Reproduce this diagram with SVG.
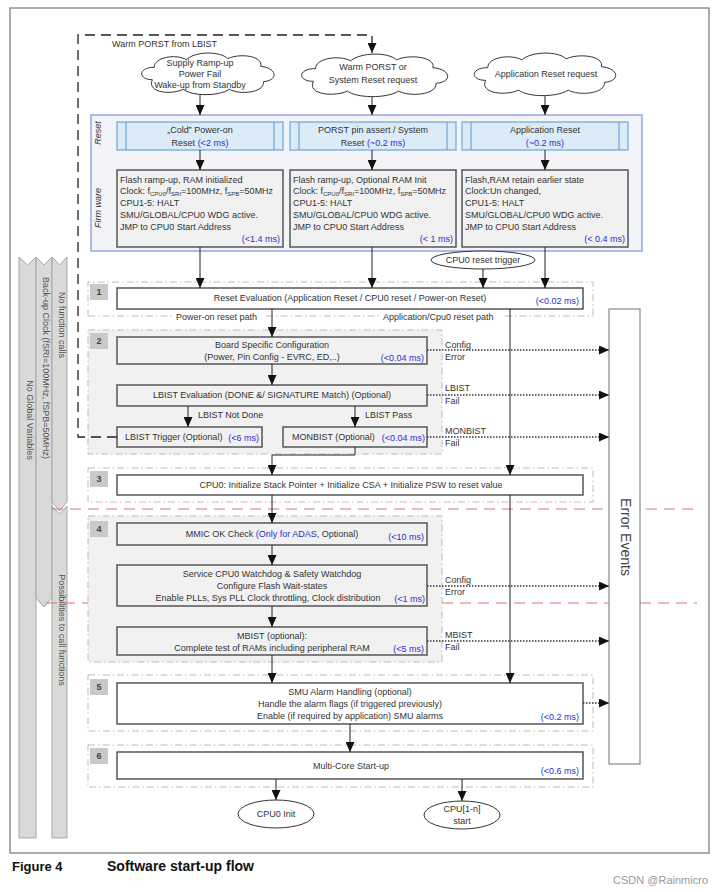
<svg xmlns="http://www.w3.org/2000/svg" width="720" height="892" viewBox="0 0 720 892">
<defs>
<style>
.t{font-family:"Liberation Sans",Arial,sans-serif;font-size:9px;fill:#333}
.m{text-anchor:middle}
.e{text-anchor:end}
.bl{fill:#2d2dd2}
.box{fill:#fff;stroke:#555;stroke-width:1.5}
.gbox{fill:#f1f1f1;stroke:#555;stroke-width:1.5}
.rbox{fill:#dcebf8;stroke:#6aa6dc;stroke-width:1.2}
.rin{stroke:#6aa6dc;stroke-width:1.2}
.reg{fill:none;stroke:#bcbcbc;stroke-width:1;stroke-dasharray:7 3 1.5 3}
.regf{fill:#f1f1f1;stroke:#bcbcbc;stroke-width:1;stroke-dasharray:7 3 1.5 3}
.badge{fill:#c9c9c9}
.bn{font-family:"Liberation Sans",Arial,sans-serif;font-size:9px;font-weight:bold;fill:#444;text-anchor:middle}
.ln{fill:none;stroke:#222;stroke-width:1}
.dot{fill:none;stroke:#333;stroke-width:1.3;stroke-dasharray:1.5 1.5}
.red{fill:none;stroke:#e07070;stroke-width:1.2;stroke-dasharray:11 7}
.cloud{fill:#fff;stroke:#333;stroke-width:1}
.band{fill:#d9d9d9;stroke:#a6a6a6;stroke-width:1}
.bt{font-family:"Liberation Sans",Arial,sans-serif;font-size:9px;fill:#555;text-anchor:middle}
</style>
<marker id="ah" markerUnits="userSpaceOnUse" markerWidth="10" markerHeight="9" refX="10" refY="4.5" orient="auto">
<path d="M0,0 L10,4.5 L0,9 Z" fill="#111"/>
</marker>
<path id="cloud" vector-effect="non-scaling-stroke" d="M20,30 C5,30 5,17 22,17 C22,6 45,3 55,9 C65,0 90,0 98,8 C110,2 135,5 132,16 C150,18 150,31 135,32 C136,44 110,46 100,40 C88,48 60,47 52,40 C40,46 14,44 20,30 Z"/>
</defs>

<rect width="720" height="892" fill="#fff"/>
<rect x="10" y="8" width="699" height="845" fill="none" stroke="#777" stroke-width="1.2"/>

<!-- left bands -->
<g id="bands">
<path class="band" d="M19,257 L27.5,265 L36,257 L36,838 L19,838 Z"/>
<path class="band" d="M36,257 L44,265 L52,257 L52,598 L44,607 L36,598 Z"/>
<path class="band" d="M52,257 L59.5,265 L67,257 L67,502 L59.5,511 L52,502 Z"/>
<path class="band" d="M52,506 L59.5,514 L67,506 L67,838 L52,838 Z"/>
<text class="bt" transform="translate(59,325) rotate(90)">No function calls</text>
<text class="bt" transform="translate(43,368) rotate(90)">Back-up Clock (fSRI=100MHz, fSPB=50MHz)</text>
<text class="bt" transform="translate(27,420) rotate(90)">No Global Variables</text>
<text class="bt" transform="translate(59,630) rotate(90)">Possibilities to call functions</text>
</g>

<!-- red dashed separators -->
<line class="red" x1="52" y1="509" x2="697" y2="509"/>
<line class="red" x1="46" y1="603" x2="697" y2="603"/>

<!-- clouds -->
<g id="cloud1">
<use href="#cloud" class="cloud" transform="translate(133,51) scale(0.967,0.957)"/>
<text class="t m" x="200" y="66">Supply Ramp-up</text>
<text class="t m" x="200" y="77">Power Fail</text>
<text class="t m" x="200" y="88">Wake-up from Standby</text>
</g>
<g id="cloud2">
<use href="#cloud" class="cloud" transform="translate(292,52) scale(1.067,0.978)"/>
<text class="t m" x="373" y="70">Warm PORST or</text>
<text class="t m" x="373" y="83">System Reset request</text>
</g>
<g id="cloud3">
<use href="#cloud" class="cloud" transform="translate(465,51) scale(1.033,0.978)"/>
<text class="t m" x="546" y="77">Application Reset request</text>
</g>

<!-- blue frame -->
<g id="resetframe">
<rect x="91" y="115" width="551" height="136" fill="#f3f4f8" stroke="#7f8fe0" stroke-width="1.2"/>
<text class="t m" font-style="italic" transform="translate(101,133) rotate(-90)">Reset</text>
<text class="t m" font-style="italic" transform="translate(101,208) rotate(-90)">Firm ware</text>
</g>

<g id="resetA">
<rect class="rbox" x="117" y="122" width="166" height="28"/>
<line class="rin" x1="126" y1="122" x2="126" y2="150"/><line class="rin" x1="274" y1="122" x2="274" y2="150"/>
<text class="t m" x="200" y="133">„Cold‟ Power-on</text>
<text class="t m" x="200" y="146">Reset <tspan class="bl">(&lt;2 ms)</tspan></text>
</g>
<g id="resetB">
<rect class="rbox" x="290" y="122" width="166" height="28"/>
<line class="rin" x1="299" y1="122" x2="299" y2="150"/><line class="rin" x1="447" y1="122" x2="447" y2="150"/>
<text class="t m" x="373" y="133">PORST pin assert / System</text>
<text class="t m" x="373" y="146">Reset <tspan class="bl">(~0.2 ms)</tspan></text>
</g>
<g id="resetC">
<rect class="rbox" x="462" y="122" width="166" height="28"/>
<line class="rin" x1="471" y1="122" x2="471" y2="150"/><line class="rin" x1="619" y1="122" x2="619" y2="150"/>
<text class="t m" x="545" y="133">Application Reset</text>
<text class="t m bl" x="545" y="146">(~0.2 ms)</text>
</g>

<g id="fwA">
<rect class="gbox" x="117" y="170" width="166" height="77"/>
<text class="t" x="120" y="183">Flash ramp-up, RAM initialized</text>
<text class="t" x="120" y="194">Clock: f<tspan font-size="6" dy="2">CPU0</tspan><tspan dy="-2">/f</tspan><tspan font-size="6" dy="2">SRI</tspan><tspan dy="-2">=100MHz, f</tspan><tspan font-size="6" dy="2">SPB</tspan><tspan dy="-2">=50MHz</tspan></text>
<text class="t" x="120" y="206">CPU1-5: HALT</text>
<text class="t" x="120" y="218">SMU/GLOBAL/CPU0 WDG active.</text>
<text class="t" x="120" y="230">JMP to CPU0 Start Address</text>
<text class="t e bl" x="280" y="242">(&lt;1.4 ms)</text>
</g>
<g id="fwB">
<rect class="gbox" x="290" y="170" width="166" height="77"/>
<text class="t" x="293" y="183">Flash ramp-up, Optional RAM Init</text>
<text class="t" x="293" y="194">Clock: f<tspan font-size="6" dy="2">CPU0</tspan><tspan dy="-2">/f</tspan><tspan font-size="6" dy="2">SRI</tspan><tspan dy="-2">=100MHz, f</tspan><tspan font-size="6" dy="2">SPB</tspan><tspan dy="-2">=50MHz</tspan></text>
<text class="t" x="293" y="206">CPU1-5: HALT</text>
<text class="t" x="293" y="218">SMU/GLOBAL/CPU0 WDG active.</text>
<text class="t" x="293" y="230">JMP to CPU0 Start Address</text>
<text class="t e bl" x="453" y="242">(&lt; 1 ms)</text>
</g>
<g id="fwC">
<rect class="gbox" x="462" y="170" width="166" height="77"/>
<text class="t" x="465" y="183">Flash,RAM retain earlier state</text>
<text class="t" x="465" y="194">Clock:Un changed,</text>
<text class="t" x="465" y="206">CPU1-5: HALT</text>
<text class="t" x="465" y="218">SMU/GLOBAL/CPU0 WDG active.</text>
<text class="t" x="465" y="230">JMP to CPU0 Start Address</text>
<text class="t e bl" x="625" y="242">(&lt; 0.4 ms)</text>
</g>

<g id="trigger">
<ellipse cx="483" cy="260" rx="52" ry="9" fill="#fff" stroke="#333" stroke-width="1"/>
<text class="t m" x="483" y="263">CPU0 reset trigger</text>
</g>

<!-- step regions -->
<g id="regions">
<path class="reg" d="M88,316 L88,282 L593,282 L593,316"/>
<path class="reg" d="M88,316 L172,316 M266,316 L380,316 M505,316 L593,316"/>
<rect class="regf" x="88" y="330" width="354" height="124"/>
<rect class="reg" x="88" y="468" width="505" height="34"/>
<rect class="regf" x="88" y="516" width="354" height="146"/>
<rect class="reg" x="88" y="675" width="505" height="56"/>
<rect class="reg" x="88" y="745" width="505" height="42"/>
<text class="t" x="176" y="320">Power-on reset path</text>
<text class="t" x="383" y="320">Application/Cpu0 reset path</text>
</g>

<g id="badges">
<rect class="badge" x="90" y="284" width="18" height="16"/><text class="bn" x="99" y="295">1</text>
<rect class="badge" x="90" y="333" width="18" height="16"/><text class="bn" x="99" y="344">2</text>
<rect class="badge" x="90" y="471" width="18" height="16"/><text class="bn" x="99" y="482">3</text>
<rect class="badge" x="90" y="521" width="18" height="16"/><text class="bn" x="99" y="532">4</text>
<rect class="badge" x="90" y="679" width="18" height="16"/><text class="bn" x="99" y="690">5</text>
<rect class="badge" x="90" y="748" width="18" height="16"/><text class="bn" x="99" y="759">6</text>
</g>

<g id="step1">
<rect class="box" x="117" y="288" width="466" height="21"/>
<text class="t m" x="350" y="301">Reset Evaluation (Application Reset / CPU0 reset / Power-on Reset)</text>
<text class="t e bl" x="579" y="304">(&lt;0.02 ms)</text>
</g>
<g id="board">
<rect class="gbox" x="117" y="337" width="310" height="27"/>
<text class="t m" x="272" y="348">Board Specific Configuration</text>
<text class="t m" x="272" y="360">(Power, Pin Config - EVRC, ED,..)</text>
<text class="t e bl" x="424" y="361">(&lt;0.04 ms)</text>
</g>
<g id="lbisteval">
<rect class="gbox" x="117" y="385" width="310" height="21"/>
<text class="t m" x="272" y="398">LBIST Evaluation (DONE &amp;/ SIGNATURE Match) (Optional)</text>
</g>
<g id="lbisttrig">
<rect class="gbox" x="117" y="427" width="145" height="20"/>
<text class="t" x="125" y="440">LBIST Trigger (Optional)</text>
<text class="t e bl" x="259" y="441">(&lt;6 ms)</text>
</g>
<g id="monbist">
<rect class="gbox" x="283" y="427" width="144" height="20"/>
<text class="t" x="292" y="440">MONBIST (Optional)</text>
<text class="t e bl" x="425" y="441">(&lt;0.04 ms)</text>
</g>
<g id="step3">
<rect class="box" x="117" y="475" width="466" height="20"/>
<text class="t m" x="351" y="488">CPU0: Initialize Stack Pointer + Initialize CSA + Initialize PSW to reset value</text>
</g>
<g id="mmic">
<rect class="gbox" x="117" y="523" width="310" height="22"/>
<text class="t m" x="272" y="537">MMIC OK Check <tspan class="bl">(Only for ADAS</tspan>, Optional)</text>
<text class="t e bl" x="424" y="540">(&lt;10 ms)</text>
</g>
<g id="service">
<rect class="gbox" x="117" y="565" width="310" height="41"/>
<text class="t m" x="272" y="577">Service CPU0 Watchdog &amp; Safety Watchdog</text>
<text class="t m" x="272" y="589">Configure Flash Wait-states</text>
<text class="t m" x="268" y="601">Enable PLLs, Sys PLL Clock throttling, Clock distribution</text>
<text class="t e bl" x="425" y="602">(&lt;1 ms)</text>
</g>
<g id="mbist">
<rect class="gbox" x="117" y="627" width="310" height="28"/>
<text class="t m" x="272" y="639">MBIST (optional):</text>
<text class="t m" x="272" y="651">Complete test of RAMs including peripheral RAM</text>
<text class="t e bl" x="424" y="652">(&lt;5 ms)</text>
</g>
<g id="step5">
<rect class="box" x="117" y="683" width="466" height="41"/>
<text class="t m" x="350" y="695">SMU Alarm Handling (optional)</text>
<text class="t m" x="350" y="707">Handle the alarm flags (if triggered previously)</text>
<text class="t m" x="350" y="719">Enable (if required by application) SMU alarms</text>
<text class="t e bl" x="579" y="720">(&lt;0.2 ms)</text>
</g>
<g id="step6">
<rect class="box" x="117" y="752" width="466" height="27"/>
<text class="t m" x="351" y="769">Multi-Core Start-up</text>
<text class="t e bl" x="579" y="774">(&lt;0.6 ms)</text>
</g>
<g id="cpu0init">
<ellipse cx="276" cy="814" rx="38" ry="14" fill="#fff" stroke="#333" stroke-width="1"/>
<text class="t m" x="276" y="817">CPU0 Init</text>
</g>
<g id="cpustart">
<ellipse cx="462" cy="815" rx="38" ry="14" fill="#fff" stroke="#333" stroke-width="1"/>
<text class="t m" x="462" y="812">CPU[1-n]</text>
<text class="t m" x="462" y="824">start</text>
</g>
<g id="errors">
<rect x="609" y="309" width="31" height="455" fill="#fff" stroke="#888" stroke-width="1.2"/>
<text font-family="Liberation Sans,Arial,sans-serif" font-size="14" fill="#444" text-anchor="middle" transform="translate(621,537) rotate(90)">Error Events</text>
</g>

<!-- connectors -->
<g id="connectors">
<path d="M117,437 L78,437 L78,35 L372,35 L372,53" fill="none" stroke="#222" stroke-width="1.3" stroke-dasharray="10 6" marker-end="url(#ah)"/>
<text class="t" x="112" y="47">Warm PORST from LBIST</text>
<line class="ln" x1="200" y1="95" x2="200" y2="115" marker-end="url(#ah)"/>
<line class="ln" x1="372" y1="97" x2="372" y2="115" marker-end="url(#ah)"/>
<line class="ln" x1="545" y1="96" x2="545" y2="115" marker-end="url(#ah)"/>
<line class="ln" x1="200" y1="150" x2="200" y2="170" marker-end="url(#ah)"/>
<line class="ln" x1="372" y1="150" x2="372" y2="170" marker-end="url(#ah)"/>
<line class="ln" x1="545" y1="150" x2="545" y2="170" marker-end="url(#ah)"/>
<line class="ln" x1="200" y1="247" x2="200" y2="288" marker-end="url(#ah)"/>
<line class="ln" x1="372" y1="247" x2="372" y2="288" marker-end="url(#ah)"/>
<line class="ln" x1="545" y1="247" x2="545" y2="288" marker-end="url(#ah)"/>
<line class="ln" x1="483" y1="269" x2="483" y2="288" marker-end="url(#ah)"/>
<line class="ln" x1="272" y1="309" x2="272" y2="337" marker-end="url(#ah)"/>
<line class="ln" x1="510" y1="309" x2="510" y2="475" marker-end="url(#ah)"/>
<line class="ln" x1="272" y1="364" x2="272" y2="385" marker-end="url(#ah)"/>
<line class="ln" x1="188" y1="406" x2="188" y2="427" marker-end="url(#ah)"/>
<text class="t" x="198" y="418">LBIST Not Done</text>
<line class="ln" x1="355" y1="406" x2="355" y2="427" marker-end="url(#ah)"/>
<text class="t" x="365" y="418">LBIST Pass</text>
<path class="ln" d="M355,447 L355,455 L272,455 L272,475" marker-end="url(#ah)"/>
<line class="ln" x1="272" y1="495" x2="272" y2="523" marker-end="url(#ah)"/>
<line class="ln" x1="510" y1="495" x2="510" y2="683" marker-end="url(#ah)"/>
<line class="ln" x1="272" y1="545" x2="272" y2="565" marker-end="url(#ah)"/>
<line class="ln" x1="272" y1="606" x2="272" y2="627" marker-end="url(#ah)"/>
<line class="ln" x1="272" y1="655" x2="272" y2="683" marker-end="url(#ah)"/>
<line class="ln" x1="350" y1="724" x2="350" y2="752" marker-end="url(#ah)"/>
<line class="ln" x1="276" y1="779" x2="276" y2="800" marker-end="url(#ah)"/>
<line class="ln" x1="462" y1="779" x2="462" y2="801" marker-end="url(#ah)"/>
<line class="dot" x1="427" y1="350" x2="609" y2="350" marker-end="url(#ah)"/>
<line class="dot" x1="427" y1="395" x2="609" y2="395" marker-end="url(#ah)"/>
<line class="dot" x1="427" y1="437" x2="609" y2="437" marker-end="url(#ah)"/>
<line class="dot" x1="427" y1="586" x2="609" y2="586" marker-end="url(#ah)"/>
<line class="dot" x1="427" y1="641" x2="609" y2="641" marker-end="url(#ah)"/>
<line class="dot" x1="583" y1="703" x2="609" y2="703" marker-end="url(#ah)"/>
<text class="t" x="445" y="348">Config</text><text class="t" x="445" y="360">Error</text>
<text class="t" x="445" y="391">LBIST</text><text class="t" x="445" y="404">Fail</text>
<text class="t" x="445" y="434">MONBIST</text><text class="t" x="445" y="446">Fail</text>
<text class="t" x="445" y="583">Config</text><text class="t" x="445" y="595">Error</text>
<text class="t" x="445" y="638">MBIST</text><text class="t" x="445" y="650">Fail</text>
</g>

<g id="caption">
<text font-family="Liberation Sans,Arial,sans-serif" font-size="13" font-weight="bold" fill="#111" x="12" y="871">Figure 4</text>
<text font-family="Liberation Sans,Arial,sans-serif" font-size="14" font-weight="bold" fill="#111" x="107" y="871">Software start-up flow</text>
<text font-family="Liberation Sans,Arial,sans-serif" font-size="11" fill="#999" x="708" y="884" text-anchor="end">CSDN @Rainmicro</text>
</g>
</svg>
